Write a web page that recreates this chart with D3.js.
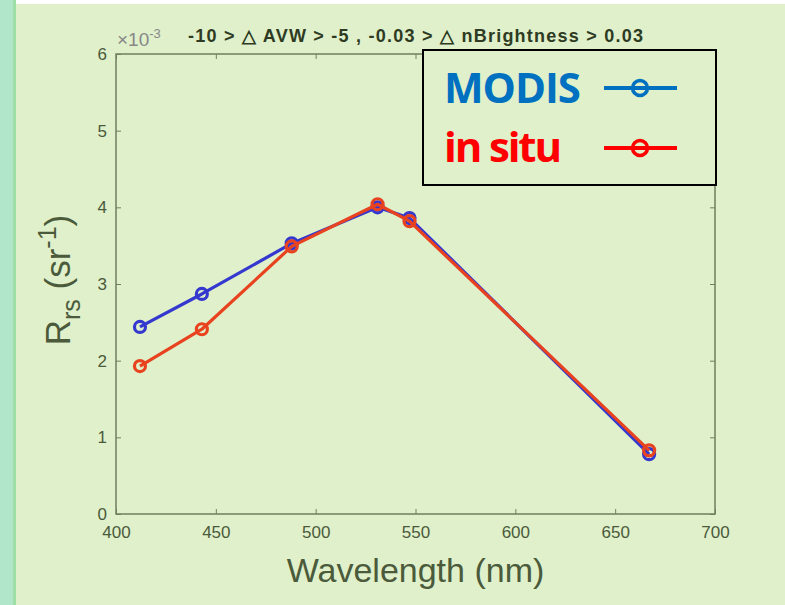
<!DOCTYPE html>
<html>
<head>
<meta charset="utf-8">
<script src="https://cdn.jsdelivr.net/npm/d3@7"></script>
<style>
  body { margin: 0; background: #dff0cb; }
  svg { display: block; }
</style>
</head>
<body>
<svg id="chart" width="785" height="605"></svg>
<script>
// data (Rrs in units of 1e-3 sr^-1)
var wavelengths = [412, 443, 488, 531, 547, 667];
var modis = [2.44, 2.87, 3.53, 4.00, 3.86, 0.78];
var inSitu = [1.93, 2.41, 3.49, 4.04, 3.82, 0.83];
var xTicks = [400, 450, 500, 550, 600, 650, 700];
var yTicks = [0, 1, 2, 3, 4, 5, 6];

var svg = d3.select('#chart');
var margin = {left: 116, top: 54, right: 70, bottom: 91};
var width = 785 - margin.left - margin.right;
var height = 605 - margin.top - margin.bottom;

// page background and left strip
svg.append('rect').attr('width', 785).attr('height', 605).attr('fill', '#dff0cb');
svg.append('rect').attr('width', 785).attr('height', 4).attr('fill', '#ffffff');
svg.append('rect').attr('x', 0).attr('y', 0).attr('width', 13).attr('height', 605).attr('fill', '#b1e6cb');
svg.append('rect').attr('x', 13).attr('y', 0).attr('width', 3).attr('height', 605).attr('fill', '#9ddfa6');

var xScale = d3.scaleLinear().domain([400, 700]).range([0, width]);
var yScale = d3.scaleLinear().domain([0, 6]).range([height, 0]);

var g = svg.append('g').attr('transform', 'translate(' + margin.left + ',' + margin.top + ')');

var axisColor = '#6f7f5f';
var textColor = '#4b5a3a';
var font = 'Liberation Sans, Arial, sans-serif';

function styleAxis(sel) {
  sel.select('.domain').remove();
  sel.selectAll('line').attr('stroke', axisColor);
  sel.selectAll('text').attr('fill', textColor)
    .attr('font-family', font)
    .attr('font-size', '17px');
}

// bottom + left axes, ticks pointing inward
g.append('g')
  .attr('transform', 'translate(0,' + height + ')')
  .call(d3.axisBottom(xScale).tickValues(xTicks).tickSize(-5).tickPadding(12).tickFormat(d3.format('d')))
  .call(styleAxis);

g.append('g')
  .call(d3.axisLeft(yScale).tickValues(yTicks).tickSize(-5).tickPadding(9).tickFormat(d3.format('d')))
  .call(styleAxis);

// mirrored ticks on top and right
g.append('g')
  .call(d3.axisTop(xScale).tickValues(xTicks).tickSize(-5).tickFormat(''))
  .call(styleAxis);
g.append('g')
  .attr('transform', 'translate(' + width + ',0)')
  .call(d3.axisRight(yScale).tickValues(yTicks).tickSize(-5).tickFormat(''))
  .call(styleAxis);

// box
g.append('rect')
  .attr('width', width).attr('height', height)
  .attr('fill', 'none').attr('stroke', axisColor).attr('stroke-width', 1.5);

// exponent label
var expo = svg.append('text')
  .attr('x', 117).attr('y', 46)
  .attr('fill', '#888888')
  .style('font-family', font)
  .style('font-size', '19px');
expo.append('tspan').text('\u00d710');
expo.append('tspan').attr('dy', -8).style('font-size', '13px').text('-3');

// title
svg.append('text')
  .attr('x', 188).attr('y', 42)
  .attr('fill', '#2e3b22')
  .attr('font-family', font)
  .attr('font-weight', 'bold')
  .attr('font-size', '18px')
  .attr('textLength', 455)
  .text('-10 > \u25b3 AVW > -5 , -0.03 > \u25b3 nBrightness > 0.03');

// axis titles
svg.append('text')
  .attr('x', margin.left + width / 2).attr('y', 582)
  .attr('text-anchor', 'middle')
  .attr('fill', textColor)
  .attr('font-family', font)
  .attr('font-size', '34px')
  .text('Wavelength (nm)');

var ylab = svg.append('text')
  .attr('transform', 'translate(70,280) rotate(-90)')
  .attr('text-anchor', 'middle')
  .attr('fill', textColor)
  .style('font-family', font)
  .style('font-size', '35px');
ylab.append('tspan').text('R');
ylab.append('tspan').attr('dy', 10).style('font-size', '25px').text('rs');
ylab.append('tspan').attr('dy', -10).text(' (sr');
ylab.append('tspan').attr('dy', -14).style('font-size', '25px').text('-1');
ylab.append('tspan').attr('dy', 14).text(')');

// series
var series = [
  {name: 'MODIS', values: modis, color: '#3438cf'},
  {name: 'in situ', values: inSitu, color: '#e8421f'}
];

var line = d3.line()
  .x(function(d) { return xScale(d[0]); })
  .y(function(d) { return yScale(d[1]); });

series.forEach(function(s) {
  var pts = wavelengths.map(function(w, i) { return [w, s.values[i]]; });
  g.append('path')
    .datum(pts)
    .attr('d', line)
    .attr('fill', 'none')
    .attr('stroke', s.color)
    .attr('stroke-width', 3.2)
    .attr('stroke-linejoin', 'round');
  g.selectAll(null)
    .data(pts)
    .enter()
    .append('circle')
    .attr('cx', function(d) { return xScale(d[0]); })
    .attr('cy', function(d) { return yScale(d[1]); })
    .attr('r', 5.5)
    .attr('fill', 'none')
    .attr('stroke', s.color)
    .attr('stroke-width', 3.2);
});

// legend
var legend = svg.append('g');
legend.append('rect')
  .attr('x', 423).attr('y', 50).attr('width', 293).attr('height', 135)
  .attr('fill', '#dff0cb').attr('stroke', '#000').attr('stroke-width', 2);

var legendItems = [
  {label: 'MODIS', color: '#0070c0', y: 103, ly: 88},
  {label: 'in situ', color: '#ff0000', y: 162, ly: 148}
];
legendItems.forEach(function(d) {
  legend.append('text')
    .attr('x', 444).attr('y', d.y)
    .attr('fill', d.color)
    .attr('font-family', 'Open Sans, Noto Sans, sans-serif')
    .attr('font-weight', 'bold')
    .attr('font-size', '42px')
    .attr('textLength', d.label === 'MODIS' ? 137 : 118)
    .text(d.label);
  legend.append('line')
    .attr('x1', 604).attr('x2', 677).attr('y1', d.ly).attr('y2', d.ly)
    .attr('stroke', d.color).attr('stroke-width', 4);
  legend.append('circle')
    .attr('cx', 640).attr('cy', d.ly).attr('r', 7.5)
    .attr('fill', 'none').attr('stroke', d.color).attr('stroke-width', 3.5);
});
</script>
</body>
</html>
